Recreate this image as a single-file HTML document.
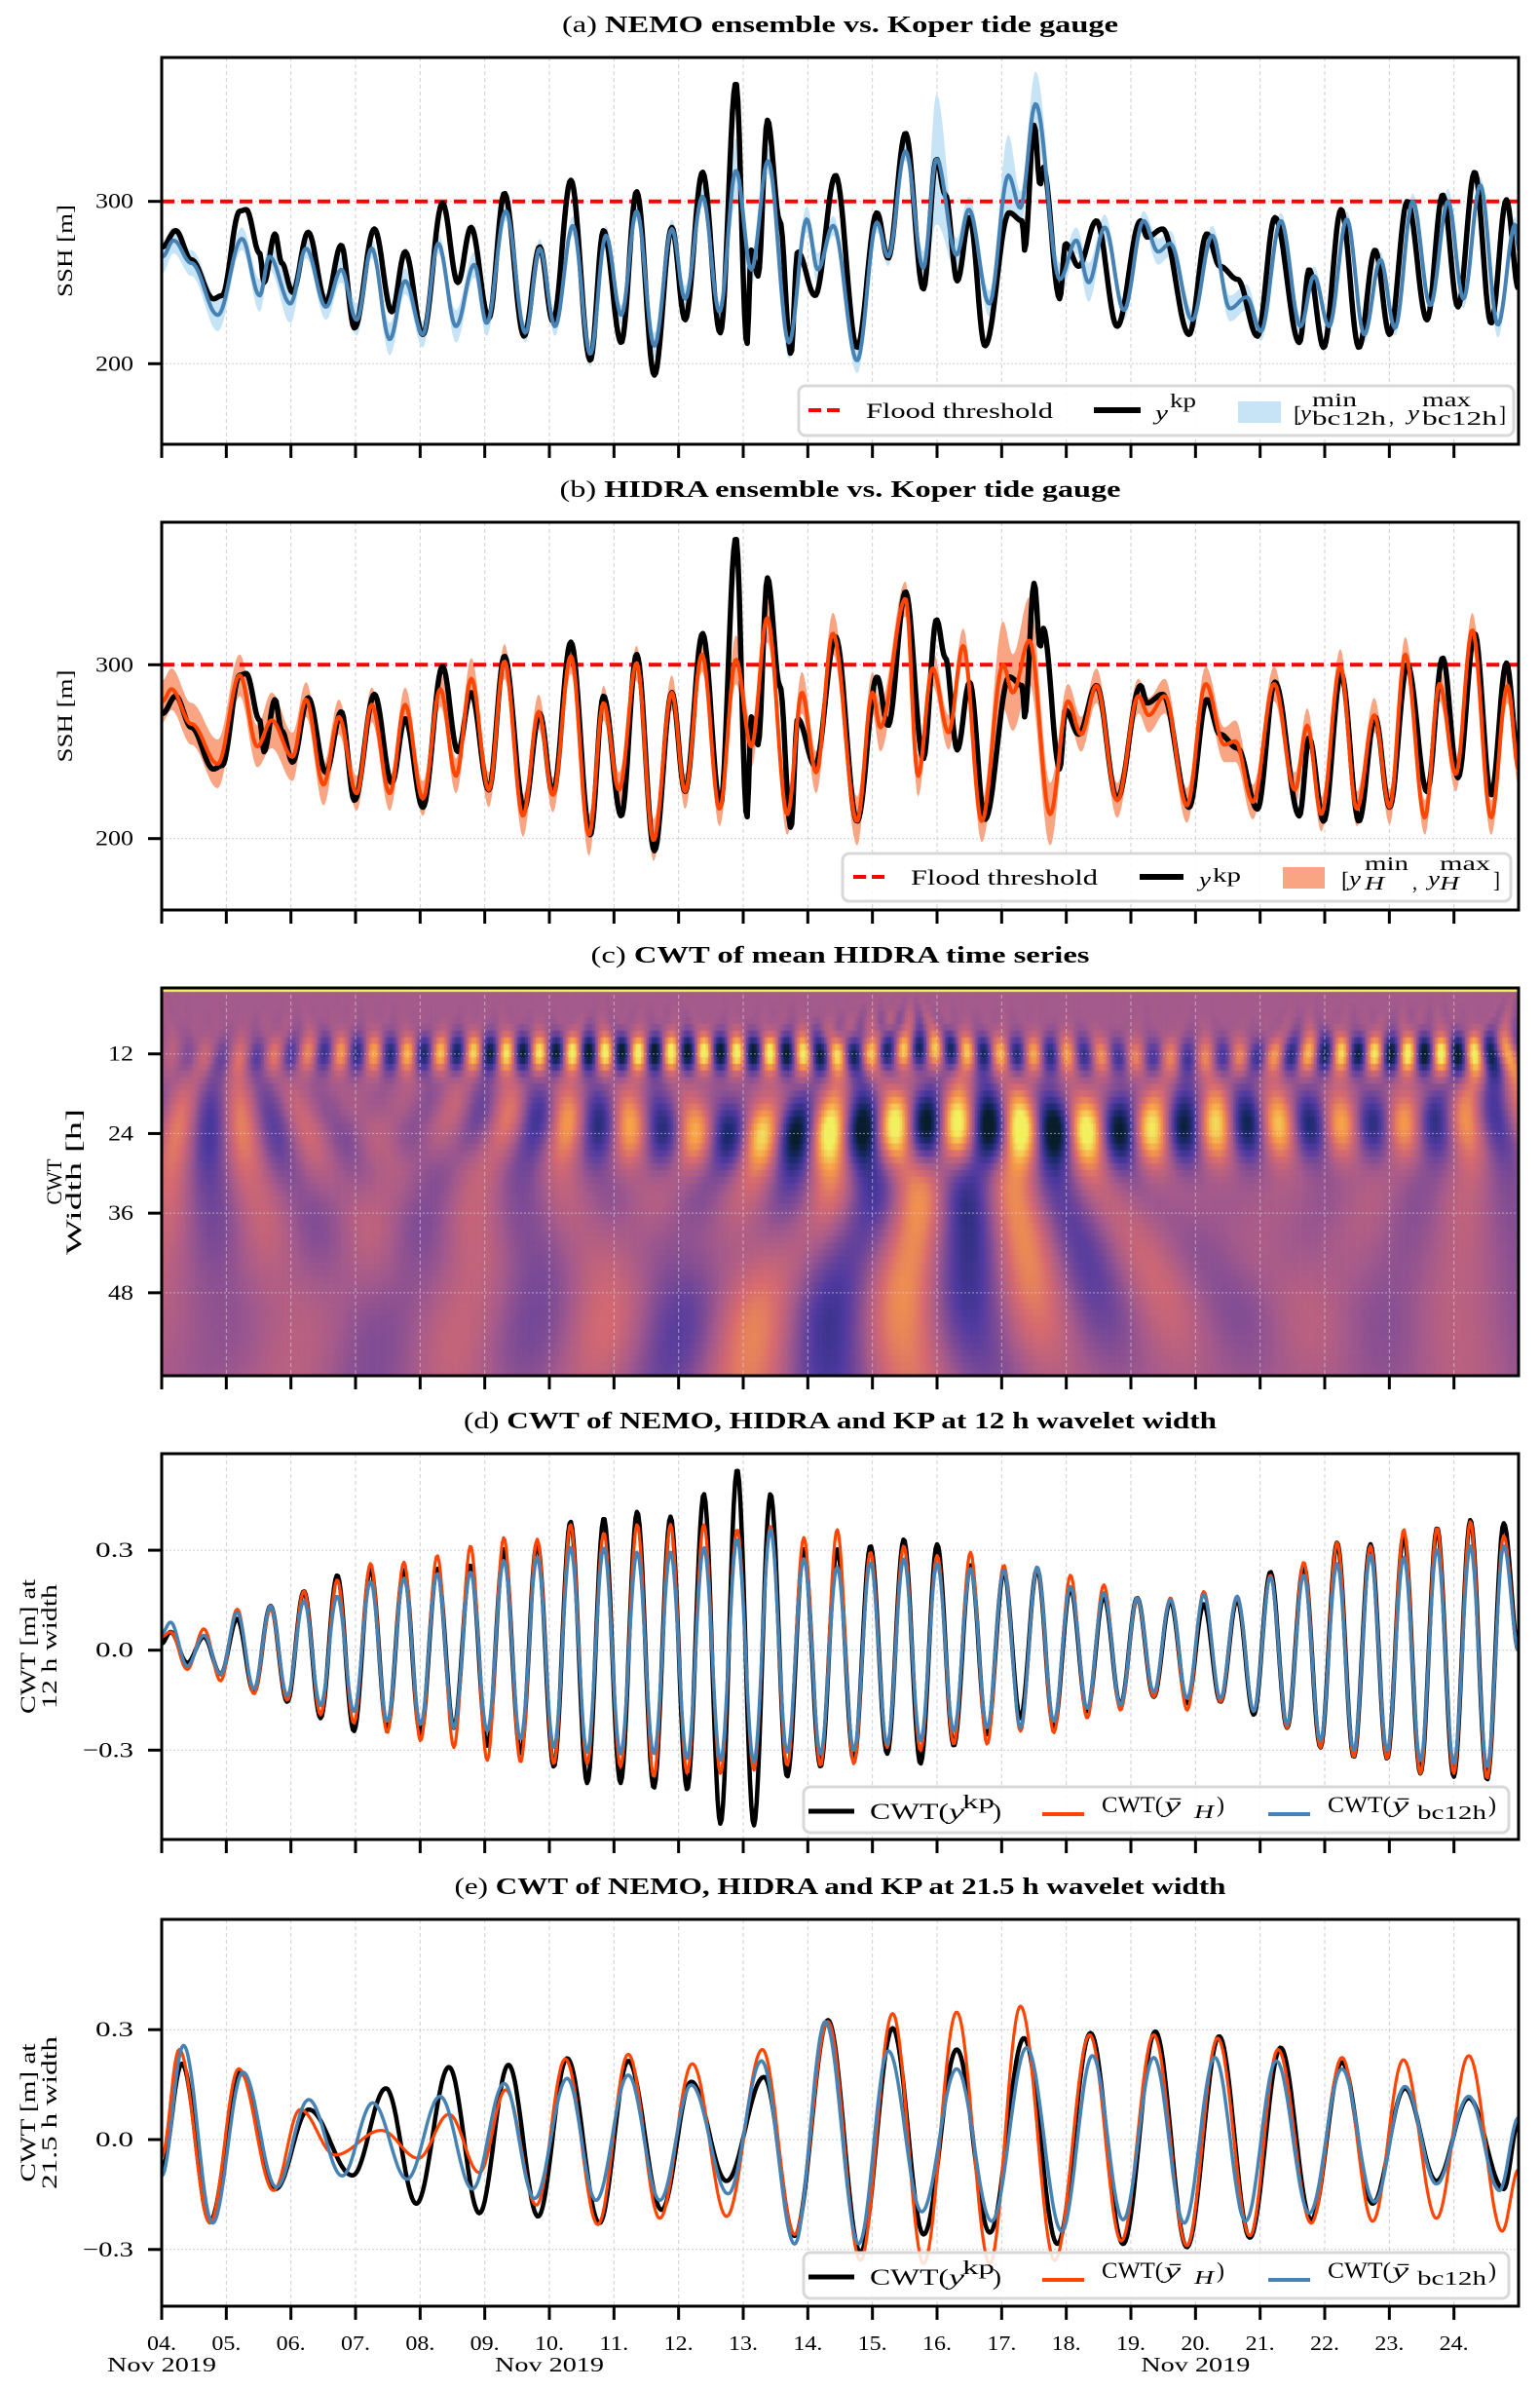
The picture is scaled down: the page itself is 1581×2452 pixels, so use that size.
<!DOCTYPE html>
<html><head><meta charset="utf-8">
<style>
body{margin:0;background:#fff;width:1581px;height:2452px;overflow:hidden;position:relative;font-family:"Liberation Serif",serif}
svg{position:absolute;left:0;top:0}
canvas{position:absolute;left:166px;top:1014px}
</style></head>
<body>
<canvas id="hm" width="1393" height="398"></canvas>
<svg id="fig" width="1581" height="2452" xmlns="http://www.w3.org/2000/svg"></svg>
<script>
// ---------------- DATA (hours since 04 Nov 00:00, values) ----------------
const dayLabels=['04.','05.','06.','07.','08.','09.','10.','11.','12.','13.','14.','15.','16.','17.','18.','19.','20.','21.','22.','23.','24.'];
const floodThreshold=300;
const kpSeries=[[0.3,272],[5.2,282],[11,264],[19.2,240],[22.4,242],[29,294],[31.4,295],[36.4,268],[38,250],[42.1,280],[44.6,262],[48.6,244],[54.4,281],[61,238],[66.7,273],[71.6,222],[79,283],[85.5,232],[90.4,269],[97,218],[104.3,299],[110,250],[114.9,284],[121.5,228],[127.3,305],[134.6,217],[140.4,272],[145.3,226],[152,313],[159.2,202],[164.1,282],[170.7,213],[176.4,306],[183,193],[189.5,284],[194.4,227],[200.9,318],[207.5,219],[213.3,373],[217.4,212],[219,270],[221.5,254],[225,350],[229.6,288],[233.7,206],[236.2,269],[242.7,242],[250.3,316],[258.3,210],[265.7,293],[269.8,265],[276.3,342],[282.9,246],[287.8,326],[291.1,304],[295.5,251],[300.1,290],[305.8,211],[314.8,293],[319.7,288],[320.5,270],[324.1,347],[326.3,310],[327.4,321],[333.6,240],[335.7,274],[340.6,260],[347.2,288],[354.9,223],[363.6,288],[366,278],[371.8,283],[381.6,218],[388.2,280],[393.1,260],[399.6,252],[407,217],[413.5,290],[422.6,213],[426.2,258],[431.6,210],[438.1,295],[444.7,210],[450.7,270],[456.1,218],[462.7,300],[470,227],[475.8,304],[481.5,235],[487.7,318],[493.8,225],[499.5,301],[504,246]];
const nemoSeries=[[0.3,266],[4.4,276],[11,262],[20.8,230],[29.8,277],[36.4,242],[40,266],[47.8,237],[53.6,271],[61,235],[66.7,258],[72.4,227],[78,271],[84.7,215],[90.4,251],[97,218],[102.7,274],[109.3,223],[116.1,261],[120.7,225],[127.8,294],[135.1,219],[140.4,271],[146.1,223],[152.7,285],[159.2,206],[165,279],[170.7,230],[176.4,294],[183,211],[189.5,283],[194.4,240],[200.9,303],[207.2,232],[213.3,319],[219,258],[225.2,325],[233,213],[239.6,289],[243.7,258],[249.4,285],[258.3,202],[265.7,287],[269.8,266],[276.3,331],[282.9,259],[287.8,326],[295.2,267],[299.8,295],[307.4,237],[314.5,316],[318.9,296],[324.6,360],[333.6,252],[339.7,276],[344.3,250],[350.3,284],[357.4,233],[364.7,288],[370.1,269],[374.6,274],[382.8,227],[390.2,279],[396.8,234],[403,241],[408.3,220],[415.7,288],[423,223],[428,254],[433.6,223],[440.2,289],[446.7,218],[452.7,264],[458.1,222],[464.7,300],[471.2,236],[477.8,300],[483.5,240],[489.8,310],[496.3,224],[502.8,286],[504,270]];
const nemoSpread=[10,8,8,10,7,10,8,12,6,8,8,10,6,10,8,8,6,10,8,8,6,6,6,6,6,8,6,6,6,8,6,8,6,6,20,10,8,10,8,10,6,8,6,6,6,10,40,10,8,8,25,10,20,10,8,12,8,6,6,8,8,6,6,8,8,6,5,6,6,6,5,5,5,5,5,6,8,6,5,8,5,5];
const hidraSeries=[[0.3,279],[3.6,286],[11,266],[20.8,243],[29,294],[35.5,253],[40.8,268],[48.6,247],[53.6,280],[60.1,231],[65.8,270],[72.4,226],[78,277],[84.7,226],[90.4,277],[97,223],[103.5,286],[109.3,236],[115,292],[121.5,228],[127.3,302],[134.2,213],[140,273],[145.3,225],[152,305],[158.7,202],[164.1,278],[169.9,228],[176.4,301],[182.7,199],[189.5,284],[194.4,227],[200.7,306],[207.2,217],[213.3,303],[219,253],[224.9,327],[232.4,214],[237.8,284],[243.1,238],[249.3,318],[258.3,210],[264,284],[266.9,264],[276.3,338],[280.9,236],[286.3,298],[292.3,261],[297.7,311],[304.6,210],[312.5,300],[316.1,284],[322.3,314],[330,214],[336.6,279],[341.5,260],[347.2,288],[354.9,222],[362.8,282],[366.6,271],[372.6,282],[380.8,219],[387.8,289],[394.7,254],[398.8,256],[405.3,221],[413.2,289],[420.9,228],[425.5,265],[430.7,214],[437.8,299],[443.9,217],[450.4,271],[456.1,218],[461.9,306],[469.2,212],[474.6,289],[480.7,237],[486.8,320],[493.8,212],[499.9,288],[504,240]];
const hidraSpread=[12,12,12,14,12,12,16,14,10,12,10,10,10,10,10,10,10,10,12,10,10,12,10,10,10,12,10,10,10,12,10,10,10,10,14,12,14,12,12,12,12,14,12,14,10,12,10,10,10,12,25,22,25,18,10,10,10,10,10,10,10,10,10,10,12,10,10,10,10,10,10,10,10,10,10,10,10,10,10,10,10,10];
// Panel d: CWT at 12 h width – alternating peak / trough values
const cwt12Period=12.38, cwt12FirstPeak=3.3;
const cwt12KpPeaks=[.055,.04,.094,.133,.177,.225,.245,.24,.245,.255,.303,.323,.386,.396,.416,.401,.469,.542,.469,.303,.303,.313,.333,.318,.255,.235,.245,.186,.162,.157,.147,.138,.152,.235,.255,.323,.318,.347,.367,.391,.381];
const cwt12KpTroughs=[-.038,-.072,-.126,-.155,-.204,-.243,-.233,-.253,-.233,-.287,-.311,-.35,-.399,-.399,-.414,-.419,-.521,-.526,-.38,-.35,-.331,-.311,-.341,-.287,-.253,-.204,-.233,-.184,-.165,-.14,-.16,-.155,-.194,-.233,-.292,-.321,-.326,-.37,-.38,-.389];
const cwt12HPeaks=[.055,.064,.123,.123,.177,.211,.26,.264,.284,.313,.338,.333,.377,.352,.377,.377,.377,.362,.372,.338,.362,.294,.313,.284,.294,.255,.245,.225,.196,.152,.157,.176,.157,.225,.264,.323,.313,.362,.367,.386,.343];
const cwt12HTroughs=[-.058,-.092,-.131,-.15,-.194,-.219,-.248,-.272,-.292,-.331,-.336,-.341,-.341,-.35,-.38,-.37,-.37,-.36,-.346,-.346,-.341,-.292,-.301,-.282,-.282,-.243,-.248,-.204,-.18,-.14,-.18,-.155,-.184,-.233,-.292,-.321,-.326,-.37,-.37,-.384];
const cwt12NPeaks=[.084,.045,.113,.133,.147,.162,.206,.216,.23,.235,.269,.279,.308,.308,.294,.294,.308,.333,.362,.274,.25,.264,.274,.26,.245,.24,.25,.191,.172,.157,.152,.167,.162,.22,.225,.26,.284,.279,.303,.313,.313];
const cwt12NTroughs=[-.048,-.072,-.116,-.136,-.165,-.184,-.214,-.223,-.233,-.243,-.267,-.292,-.306,-.311,-.311,-.326,-.331,-.336,-.306,-.311,-.301,-.282,-.272,-.243,-.233,-.233,-.214,-.175,-.165,-.126,-.145,-.145,-.184,-.223,-.272,-.301,-.301,-.331,-.34,-.35];
// Panel e: CWT at 21.5 h width – extrema times (h) and values
const cwt21KpT=[0,7.5,17.9,29.3,42.3,54.6,70.9,83.3,94.6,106.7,118.0,128.8,139.8,150.6,162.6,173.3,185.7,196.7,209.8,223.7,235.1,247.5,259.5,271.5,283.0,295.3,307.6,320.3,332.7,345.0,357.1,369.1,380.8,392.8,404.2,415.6,427.0,438.4,449.8,461.8,473.5,485.5,498.5,504];
const cwt21KpV=[-.082,.207,-.223,.184,-.135,.082,-.098,.140,-.175,.198,-.201,.204,-.210,.222,-.228,.215,-.192,.158,-.113,.171,-.263,.326,-.308,.304,-.259,.246,-.254,.277,-.285,.291,-.285,.295,-.294,.282,-.268,.251,-.219,.211,-.175,.140,-.113,.113,-.135,.051];
const cwt21HT=[0,6.5,17.9,28.6,41.6,51.4,64.4,81.6,95.3,106.7,118.0,127.8,139.2,149.9,162.0,173.3,185.0,197.1,209.8,223.1,235.1,247.5,259.5,271.5,283.0,295.3,307.6,319.0,331.7,344.7,356.4,368.5,380.8,392.2,404.2,414.6,427.0,438.4,449.8,461.2,473.5,485.5,497.9,504];
const cwt21HV=[-.046,.246,-.228,.193,-.139,.082,-.042,.025,-.051,.069,-.090,.136,-.179,.220,-.232,.233,-.215,.207,-.210,.246,-.259,.322,-.330,.344,-.339,.348,-.339,.364,-.330,.286,-.277,.286,-.290,.277,-.263,.246,-.228,.224,-.223,.218,-.215,.229,-.250,-.082];
const cwt21NT=[0,8.1,18.9,30.2,42.6,54.6,67.0,78.4,91.1,103.4,115.4,127.2,138.5,150.6,161.3,173.3,185.0,196.7,210.4,222.8,235.1,246.5,258.9,269.9,282.3,295.3,308.3,321.3,334.3,345.7,357.1,368.5,379.8,391.2,402.6,414.0,426.3,438.4,450.4,461.8,473.5,485.5,496.9,504];
const cwt21NV=[-.099,.257,-.228,.184,-.130,.109,-.099,.100,-.108,.118,-.135,.153,-.161,.167,-.166,.176,-.166,.149,-.148,.215,-.285,.322,-.285,.242,-.197,.193,-.223,.251,-.250,.229,-.219,.224,-.228,.224,-.223,.215,-.201,.193,-.170,.145,-.121,.118,-.139,.060];
const cwtWidths=[];for(let s=1;s<=61;s++)cwtWidths.push(s);

// ---------------- helpers ----------------
const NS='http://www.w3.org/2000/svg';
const svg=document.getElementById('fig');
function mk(tag,parent){const e=document.createElementNS(NS,tag);(parent||svg).appendChild(e);return e;}
function at(e,o){for(const k in o)e.setAttribute(k,o[k]);return e;}
const X0=166,X1=1559,DAY=(X1-X0)/21,TEND=504;
function xOf(h){return X0+h/24*DAY;}
function ci(ts,vs,t){const n=ts.length;if(t<=ts[0])return vs[0];if(t>=ts[n-1])return vs[n-1];let i=0;while(ts[i+1]<t)i++;const f=(t-ts[i])/(ts[i+1]-ts[i]);return vs[i]+(vs[i+1]-vs[i])*(1-Math.cos(Math.PI*f))/2;}
function curvePath(ts,vs,yOf){let d='';for(let t=0;t<=TEND+0.01;t+=0.5){d+=(t?'L':'M')+xOf(t).toFixed(1)+','+yOf(ci(ts,vs,t)).toFixed(1);}return d;}
function bandPath(ts,vs,sp,yOf){const up=[],dn=[];for(let t=0;t<=TEND+0.01;t+=0.5){const v=ci(ts,vs,t),s=ci(ts,sp,t);up.push(xOf(t).toFixed(1)+','+yOf(v+s).toFixed(1));dn.push(xOf(t).toFixed(1)+','+yOf(v-s).toFixed(1));}return 'M'+up.join('L')+'L'+dn.reverse().join('L')+'Z';}
function split(pairs){return [pairs.map(p=>p[0]),pairs.map(p=>p[1])];}
function interleave(t0,per,peaks,troughs,startV,endV){const ts=[0],vs=[startV];for(let i=0;i<peaks.length;i++){ts.push(t0+i*per);vs.push(peaks[i]);if(i<troughs.length){ts.push(t0+(i+0.5)*per);vs.push(troughs[i]);}}ts.push(TEND);vs.push(endV);return [ts,vs];}

const panels=[
 {id:'a',top:59,bot:456,yOf:v=>206.7+(300-v)*1.666,ticks:[200,300],tl:['200','300'],tag:'(a)',title:'NEMO ensemble vs. Koper tide gauge',tw:571,yl:['SSH [m]'],yll:[95],ylx:[74]},
 {id:'b',top:536,bot:934,yOf:v=>682.3+(300-v)*1.784,ticks:[200,300],tl:['200','300'],tag:'(b)',title:'HIDRA ensemble vs. Koper tide gauge',tw:576,yl:['SSH [m]'],yll:[95],ylx:[74]},
 {id:'c',top:1014,bot:1412,yOf:w=>1081.7+(w-12)*6.81,ticks:[12,24,36,48],tl:['12','24','36','48'],tag:'(c)',title:'CWT of mean HIDRA time series',tw:512,yl:['CWT','Width [h]'],yll:[47,150],ylx:[63,83]},
 {id:'d',top:1492,bot:1888,yOf:v=>1693.7-v*342,ticks:[-0.3,0,0.3],tl:['\u22120.3','0.0','0.3'],tag:'(d)',title:'CWT of NEMO, HIDRA and KP at 12 h wavelet width',tw:773,yl:['CWT [m] at','12 h width'],yll:[138,128],ylx:[36,58]},
 {id:'e',top:1970,bot:2367,yOf:v=>2196-v*376,ticks:[-0.3,0,0.3],tl:['\u22120.3','0.0','0.3'],tag:'(e)',title:'CWT of NEMO, HIDRA and KP at 21.5 h wavelet width',tw:792,yl:['CWT [m] at','21.5 h width'],yll:[142,157],ylx:[36,58]}
];

// ---------------- heatmap (panel c): real part of Morlet CWT of HIDRA mean ----------------
(function(){
 const [ht,hv]=split(hidraSeries);
 const N=TEND, raw=[];for(let n=0;n<N;n++)raw.push(ci(ht,hv,n));
 const mean=raw.reduce((a,b)=>a+b,0)/N;
 const x=raw.map(v=>v-mean);
 const W={};let vmax=0;
 for(const s of cwtWidths){
  const M=Math.min(5*s,N),k=[];
  for(let m=-M;m<=M;m++){const u=m/s;k.push(Math.pow(s,-0.5)*Math.pow(Math.PI,-0.25)*Math.cos(6*u)*Math.exp(-u*u/2));}
  const src=s===1?raw:x;
  const row=new Array(N);
  for(let n=0;n<N;n++){let a=0;for(let m=-M;m<=M;m++){const j=n+m;if(j>=0&&j<N)a+=src[j]*k[m+M];}row[n]=a;}
  W[s]=row;
  if(s>=8&&s<=30){for(let n=48;n<N-48;n++)vmax=Math.max(vmax,Math.abs(row[n]));}
 }
 vmax*=0.85;
 const stops=[[0,[8,30,44]],[0.12,[28,42,112]],[0.28,[80,58,160]],[0.5,[164,90,140]],[0.66,[214,106,112]],[0.82,[246,154,72]],[1,[242,240,96]]];
 function cmap(v){let f=Math.max(0,Math.min(1,(v/vmax+1)/2));for(let i=1;i<stops.length;i++){if(f<=stops[i][0]){const a=stops[i-1],b=stops[i],g=(f-a[0])/(b[0]-a[0]);return 'rgb('+a[1].map((c,j)=>Math.round(c+(b[1][j]-c)*g)).join(',')+')';}}return 'rgb(242,240,96)';}
 const cv=document.getElementById('hm'),ctx=cv.getContext('2d');
 const p=panels[2],cw=DAY/24;
 for(const s of cwtWidths){
  let y0=p.yOf(s-0.5)-p.top,y1=p.yOf(s+0.5)-p.top;
  if(s===1){y0=0;y1=4;} else {y0=Math.max(y0,4);}
  if(y1<=y0||y0>=398)continue;y1=Math.min(y1,398);
  for(let n=0;n<N;n++){ctx.fillStyle=cmap(W[s][n]);ctx.fillRect(n*cw,y0,cw+0.7,y1-y0+0.7);}
 }
})();

// ---------------- axes, grids, titles ----------------
for(const p of panels){
 const g=mk('g');
 
 
 const cp=at(mk('clipPath',g),{id:'clip-'+p.id});
 at(mk('rect',cp),{x:X0,y:p.top,width:X1-X0,height:p.bot-p.top});
 const gridCol=p.id==='c'?'rgba(220,220,220,0.6)':'#cfcfcf';
 for(let i=1;i<21;i++){
  const l=at(mk('line',g),{x1:xOf(i*24),x2:xOf(i*24),y1:p.top,y2:p.bot,stroke:gridCol,'stroke-width':1,'stroke-dasharray':'4,3'});
  
  
 }
 p.ticks.forEach((tv,i)=>{
  const y=p.yOf(tv);
  const l=at(mk('line',g),{x1:X0,x2:X1,y1:y,y2:y,stroke:gridCol,'stroke-width':1,'stroke-dasharray':'2,2'});
  
  
  const tk=at(mk('line',g),{x1:152,x2:X0,y1:y,y2:y,stroke:'#000','stroke-width':3});
  
  
  const tx=at(mk('text',g),{x:137,y:y+7,'text-anchor':'end','font-size':22,textLength:p.tl[i].length*13,lengthAdjust:'spacingAndGlyphs'});
  tx.textContent=p.tl[i];
  
  
 });
 for(let i=0;i<=20;i++){
  const tk=at(mk('line',g),{x1:xOf(i*24),x2:xOf(i*24),y1:p.bot,y2:p.bot+14,stroke:'#000','stroke-width':3});
  
  
 }
 const t=at(mk('text',g),{x:(X0+X1)/2,y:p.top-26,'text-anchor':'middle','font-size':24,textLength:p.tw,lengthAdjust:'spacingAndGlyphs'});
 
 
 const t1=mk('tspan',t);t1.textContent=p.tag+' ';
 const t2=at(mk('tspan',t),{'font-weight':'bold'});t2.textContent=p.title;
 p.yl.forEach((s,i)=>{
  const cy=(p.top+p.bot)/2;
  const yl=at(mk('text',g),{x:p.ylx[i],y:cy,'text-anchor':'middle','font-size':22,transform:'rotate(-90 '+p.ylx[i]+' '+cy+')',textLength:p.yll[i],lengthAdjust:'spacingAndGlyphs'});
  yl.textContent=s;
  
  
 });
 p.g=g;
}

// ---------------- series ----------------
function addPath(p,d,attrs){return at(mk('path',p.g),Object.assign({d:d,fill:'none','clip-path':'url(#clip-'+p.id+')','stroke-linejoin':'round'},attrs));}
{
 const p=panels[0];const [nt,nv]=split(nemoSeries);const [kt,kv]=split(kpSeries);
 const sp=nv.map((v,i)=>nemoSpread[i]??7);
 let e=addPath(p,bandPath(nt,nv,sp,p.yOf),{fill:'#c6e4f6',stroke:'none'});
 
 
 e=addPath(p,'M'+X0+','+p.yOf(floodThreshold)+'L'+X1+','+p.yOf(floodThreshold),{stroke:'#ff0000','stroke-width':4,'stroke-dasharray':'13,7'});
 
 
 e=addPath(p,curvePath(kt,kv,p.yOf),{stroke:'#000','stroke-width':5.5});
 
 
 e=addPath(p,curvePath(nt,nv,p.yOf),{stroke:'#4682b4','stroke-width':4});
 
 
}
{
 const p=panels[1];const [ht,hv]=split(hidraSeries);const [kt,kv]=split(kpSeries);
 const sp=hv.map((v,i)=>hidraSpread[i]??10);
 let e=addPath(p,bandPath(ht,hv,sp,p.yOf),{fill:'#f9a584',stroke:'none'});
 
 
 e=addPath(p,'M'+X0+','+p.yOf(floodThreshold)+'L'+X1+','+p.yOf(floodThreshold),{stroke:'#ff0000','stroke-width':4,'stroke-dasharray':'13,7'});
 
 
 e=addPath(p,curvePath(kt,kv,p.yOf),{stroke:'#000','stroke-width':5.5});
 
 
 e=addPath(p,curvePath(ht,hv,p.yOf),{stroke:'#ff4500','stroke-width':4});
 
 
}
{
 const p=panels[3];
 const kp=interleave(cwt12FirstPeak,cwt12Period,cwt12KpPeaks,cwt12KpTroughs,0.02,0);
 const hh=interleave(cwt12FirstPeak,cwt12Period,cwt12HPeaks,cwt12HTroughs,0.04,0);
 const nn=interleave(cwt12FirstPeak,cwt12Period,cwt12NPeaks,cwt12NTroughs,0.05,0);
 let e=addPath(p,curvePath(kp[0],kp[1],p.yOf),{stroke:'#000','stroke-width':4.5});
 
 
 e=addPath(p,curvePath(hh[0],hh[1],p.yOf),{stroke:'#ff4500','stroke-width':3.2});
 
 
 e=addPath(p,curvePath(nn[0],nn[1],p.yOf),{stroke:'#4682b4','stroke-width':3.5});
 
 
}
{
 const p=panels[4];
 let e=addPath(p,curvePath(cwt21KpT,cwt21KpV,p.yOf),{stroke:'#000','stroke-width':4.5});
 
 
 e=addPath(p,curvePath(cwt21HT,cwt21HV,p.yOf),{stroke:'#ff4500','stroke-width':3.2});
 
 
 e=addPath(p,curvePath(cwt21NT,cwt21NV,p.yOf),{stroke:'#4682b4','stroke-width':3.5});
 
 
}
for(const p of panels){
 const r=at(mk('rect',p.g),{x:X0,y:p.top,width:X1-X0,height:p.bot-p.top,fill:'none',stroke:'#000','stroke-width':3});
 
 
}
dayLabels.forEach((s,i)=>{
 const t=at(mk('text'),{x:xOf(i*24),y:2412,'text-anchor':'middle','font-size':21,textLength:30,lengthAdjust:'spacingAndGlyphs'});
 t.textContent=s;
 
 
});
[0,6,16].forEach(i=>{
 const t=at(mk('text'),{x:xOf(i*24),y:2434,'text-anchor':'middle','font-size':21,textLength:112,lengthAdjust:'spacingAndGlyphs'});
 t.textContent='Nov 2019';
 
 
});

// ---------------- legends ----------------
function legendBox(x,y,w,h){const r=at(mk('rect'),{x:x,y:y,width:w,height:h,rx:7,fill:'rgba(255,255,255,0.85)',stroke:'#d8d8d8','stroke-width':3});return r;}
// txt(x0,x1,baseline,str,fontsize,italic)
function txt(x0,x1,y,s,fs,it){const t=at(mk('text'),{x:x0,y:y,'font-size':fs,textLength:Math.max(4,x1-x0),lengthAdjust:'spacingAndGlyphs'});if(it)t.setAttribute('font-style','italic');t.textContent=s;return t;}
let t;
// legend a
t=legendBox(820,396,734,51);


t=at(mk('line'),{x1:830,x2:867,y1:421,y2:421,stroke:'#f00','stroke-width':4,'stroke-dasharray':'13,6'});


t=txt(889,1081,429,'Flood threshold',22);


t=at(mk('line'),{x1:1123,x2:1171,y1:421,y2:421,stroke:'#000','stroke-width':6});


t=txt(1186,1199,431,'y',22,true);


txt(1201,1228,418,'kp',20);
t=at(mk('rect'),{x:1271,y:412,width:44,height:22,fill:'#c6e4f6'});


t=txt(1328,1336,433,'[',23);


txt(1335,1346,431,'y',22,true);txt(1347,1393,417,'min',20);txt(1347,1423,436,'bc12h',20);
txt(1426,1431,435,',',22);txt(1445,1457,431,'y',22,true);txt(1460,1510,417,'max',20);txt(1460,1537,436,'bc12h',20);txt(1539,1546,433,']',23);
// legend b
t=legendBox(865,876,686,49);


t=at(mk('line'),{x1:876,x2:912,y1:900,y2:900,stroke:'#f00','stroke-width':4,'stroke-dasharray':'13,6'});


t=txt(935,1127,908,'Flood threshold',22);


t=at(mk('line'),{x1:1170,x2:1215,y1:900,y2:900,stroke:'#000','stroke-width':6});


t=txt(1231,1243,910,'y',22,true);


txt(1245,1274,905,'kp',20);
t=at(mk('rect'),{x:1317,y:890,width:43,height:22,fill:'#f9a584'});


t=txt(1377,1385,911,'[',23);


txt(1385,1397,909,'y',22,true);txt(1401,1446,893,'min',20);txt(1401,1421,913,'H',20,true);
txt(1450,1455,913,',',22);txt(1466,1478,909,'y',22,true);txt(1478,1530,893,'max',20);txt(1478,1498,913,'H',20,true);txt(1533,1540,911,']',23);
// legends d & e
function cwtLegend(y0,suffix){
 const b=legendBox(825,y0,724,47);
 
 
 const ly=y0+25;
 let e=at(mk('line'),{x1:830,x2:877,y1:ly,y2:ly,stroke:'#000','stroke-width':5});
 
 
 e=txt(893,974,ly+8,'CWT(',23);
 
 
 txt(974,990,ly+8,'y',23,true);txt(988,1021,ly-3,'kp',20);txt(1019,1028,ly+8,')',23);
 e=at(mk('line'),{x1:1070,x2:1113,y1:ly+3,y2:ly+3,stroke:'#ff4500','stroke-width':4});
 
 
 e=txt(1131,1194,ly+1,'CWT(',23);
 
 
 txt(1195,1212,ly+1,'\u0233',23,true);txt(1226,1246,ly+7,'H',20,true);txt(1249,1257,ly+1,')',23);
 e=at(mk('line'),{x1:1302,x2:1345,y1:ly+3,y2:ly+3,stroke:'#4682b4','stroke-width':4});
 
 
 e=txt(1363,1428,ly+1,'CWT(',23);
 
 
 txt(1429,1446,ly+1,'\u0233',23,true);txt(1455,1526,ly+8,'bc12h',20);txt(1528,1536,ly+1,')',23);
}
cwtLegend(1834,'d');
cwtLegend(2312,'e');
</script>
</body></html>
